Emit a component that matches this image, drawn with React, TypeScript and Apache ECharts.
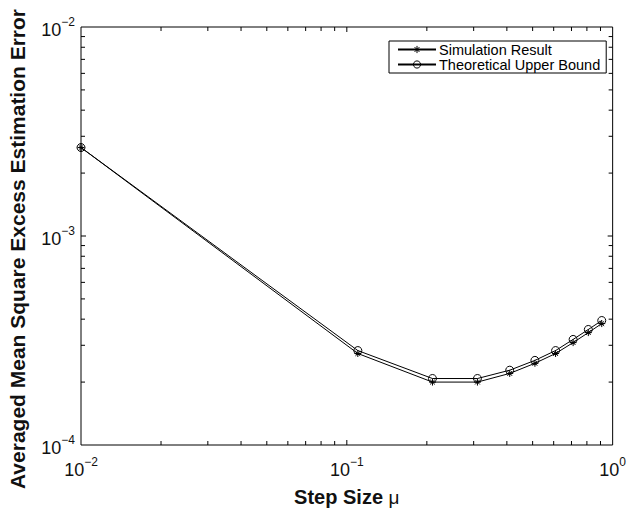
import React, { useEffect, useRef } from "react";
import * as echarts from "echarts";

// Step sizes and averaged mean square excess estimation error
const stepSizes = [0.01, 0.11, 0.21, 0.31, 0.41, 0.51, 0.61, 0.71, 0.81, 0.91];
const simulationResult = [2.65e-3, 2.74e-4, 2.0e-4, 2.0e-4, 2.2e-4, 2.46e-4, 2.74e-4, 3.09e-4, 3.45e-4, 3.81e-4];
const theoreticalBound = [2.65e-3, 2.83e-4, 2.08e-4, 2.08e-4, 2.28e-4, 2.54e-4, 2.83e-4, 3.2e-4, 3.57e-4, 3.94e-4];

// Axis ranges and log tick positions
const X_MIN = 0.01;
const X_MAX = 1;
const Y_MIN = 1e-4;
const Y_MAX = 1e-2;
const xTickValues = [0.02, 0.03, 0.04, 0.05, 0.06, 0.07, 0.08, 0.09, 0.1, 0.2, 0.3, 0.4, 0.5, 0.6, 0.7, 0.8, 0.9];
const yTickValues = [2e-4, 3e-4, 4e-4, 5e-4, 6e-4, 7e-4, 8e-4, 9e-4, 1e-3, 2e-3, 3e-3, 4e-3, 5e-3, 6e-3, 7e-3, 8e-3, 9e-3];

const FONT = "'Liberation Sans', Arial, Helvetica, sans-serif";
const STAR = "path://M5 0 L5 10 M0 5 L10 5 M1.6 1.6 L8.4 8.4 M1.6 8.4 L8.4 1.6";
const Y_TITLE = "Averaged Mean Square Excess Estimation Error";

const powerLabel = (v: number) => {
  const e = Math.round(Math.log10(v));
  return `{b|10}{s|${e < 0 ? "\u2212" : ""}${Math.abs(e)}}`;
};

// "10" sits slightly low, the exponent raised as a superscript
const labelRich = {
  b: { fontSize: 18, fontFamily: FONT, color: "#111", padding: [6, 0, 0, 0] },
  s: { fontSize: 12, fontFamily: FONT, color: "#111", padding: [0, 0, 10, 0] },
};

const isMajor = (v: number) => Math.abs(Math.log10(v) - Math.round(Math.log10(v))) < 1e-9;

const markerStyle = { color: "rgba(0,0,0,0)", borderColor: "#000", borderWidth: 1 };

export default function App() {
  const ref = useRef<HTMLDivElement>(null);

  useEffect(() => {
    if (!ref.current) return;
    const chart = echarts.init(ref.current, null, { renderer: "svg" });

    const tickStyle = { stroke: "#000", lineWidth: 1 };

    chart.setOption({
      animation: false,
      backgroundColor: "#fff",
      grid: {
        left: 81,
        top: 27,
        right: 15,
        bottom: 65,
        show: true,
        borderColor: "#000",
        borderWidth: 1,
        backgroundColor: "#fff",
      },
      legend: {
        data: [
          { name: "Simulation Result", itemStyle: markerStyle },
          { name: "Theoretical Upper Bound", itemStyle: markerStyle },
        ],
        orient: "vertical",
        left: 389,
        top: 41,
        padding: [1, 6, 1, 8],
        itemGap: 0,
        itemWidth: 38,
        itemHeight: 9,
        borderColor: "#000",
        borderWidth: 1,
        backgroundColor: "#fff",
        textStyle: { fontSize: 14.5, fontFamily: FONT, color: "#000", lineHeight: 15, padding: [0, 0, 0, -2] },
      },
      graphic: [
        {
          type: "text",
          x: 17,
          y: 249,
          rotation: Math.PI / 2,
          style: {
            text: Y_TITLE,
            fontSize: 21,
            fontWeight: "bold",
            fontFamily: FONT,
            fill: "#111",
            align: "center",
            verticalAlign: "middle",
          },
        },
      ],
      xAxis: {
        type: "log",
        logBase: 10,
        min: X_MIN,
        max: X_MAX,
        name: "{t|Step Size }{m|\u03bc}",
        nameLocation: "middle",
        nameGap: 42,
        nameTextStyle: {
          rich: {
            t: { fontSize: 20, fontWeight: "bold", fontFamily: FONT, color: "#111" },
            m: { fontSize: 19, fontFamily: FONT, color: "#111" },
          },
        },
        axisLine: { show: false },
        axisTick: { show: false },
        splitLine: { show: false },
        axisLabel: { formatter: powerLabel, rich: labelRich, margin: 10 },
      },
      yAxis: {
        type: "log",
        logBase: 10,
        min: Y_MIN,
        max: Y_MAX,
        axisLine: { show: false },
        axisTick: { show: false },
        splitLine: { show: false },
        axisLabel: { formatter: powerLabel, rich: labelRich, margin: 6 },
      },
      series: [
        {
          name: "Simulation Result",
          type: "line",
          data: stepSizes.map((x, i) => [x, simulationResult[i]]),
          symbol: STAR,
          symbolSize: 7,
          itemStyle: markerStyle,
          lineStyle: { color: "#000", width: 1 },
          z: 3,
        },
        {
          name: "Theoretical Upper Bound",
          type: "line",
          data: stepSizes.map((x, i) => [x, theoreticalBound[i]]),
          symbol: "circle",
          symbolSize: 8,
          itemStyle: markerStyle,
          lineStyle: { color: "#000", width: 1 },
          z: 3,
        },
        {
          // inward tick marks on the bottom and top edges
          type: "custom",
          silent: true,
          clip: false,
          data: xTickValues.map((v) => [v, Y_MIN]),
          renderItem: (_p: any, api: any) => {
            const v = api.value(0);
            const len = isMajor(v) ? 5 : 4;
            const b = api.coord([v, Y_MIN]);
            const t = api.coord([v, Y_MAX]);
            return {
              type: "group",
              children: [
                { type: "line", shape: { x1: b[0], y1: b[1], x2: b[0], y2: b[1] - len }, style: tickStyle },
                { type: "line", shape: { x1: t[0], y1: t[1], x2: t[0], y2: t[1] + len }, style: tickStyle },
              ],
            };
          },
        },
        {
          // inward tick marks on the left and right edges
          type: "custom",
          silent: true,
          clip: false,
          data: yTickValues.map((v) => [X_MIN, v]),
          renderItem: (_p: any, api: any) => {
            const v = api.value(1);
            const len = isMajor(v) ? 5 : 4;
            const l = api.coord([X_MIN, v]);
            const r = api.coord([X_MAX, v]);
            return {
              type: "group",
              children: [
                { type: "line", shape: { x1: l[0], y1: l[1], x2: l[0] + len, y2: l[1] }, style: tickStyle },
                { type: "line", shape: { x1: r[0], y1: r[1], x2: r[0] - len, y2: r[1] }, style: tickStyle },
              ],
            };
          },
        },
      ],
    });

    return () => chart.dispose();
  }, []);

  return <div ref={ref} style={{ width: 629, height: 512, position: "absolute", left: 0, top: 0 }} />;
}
